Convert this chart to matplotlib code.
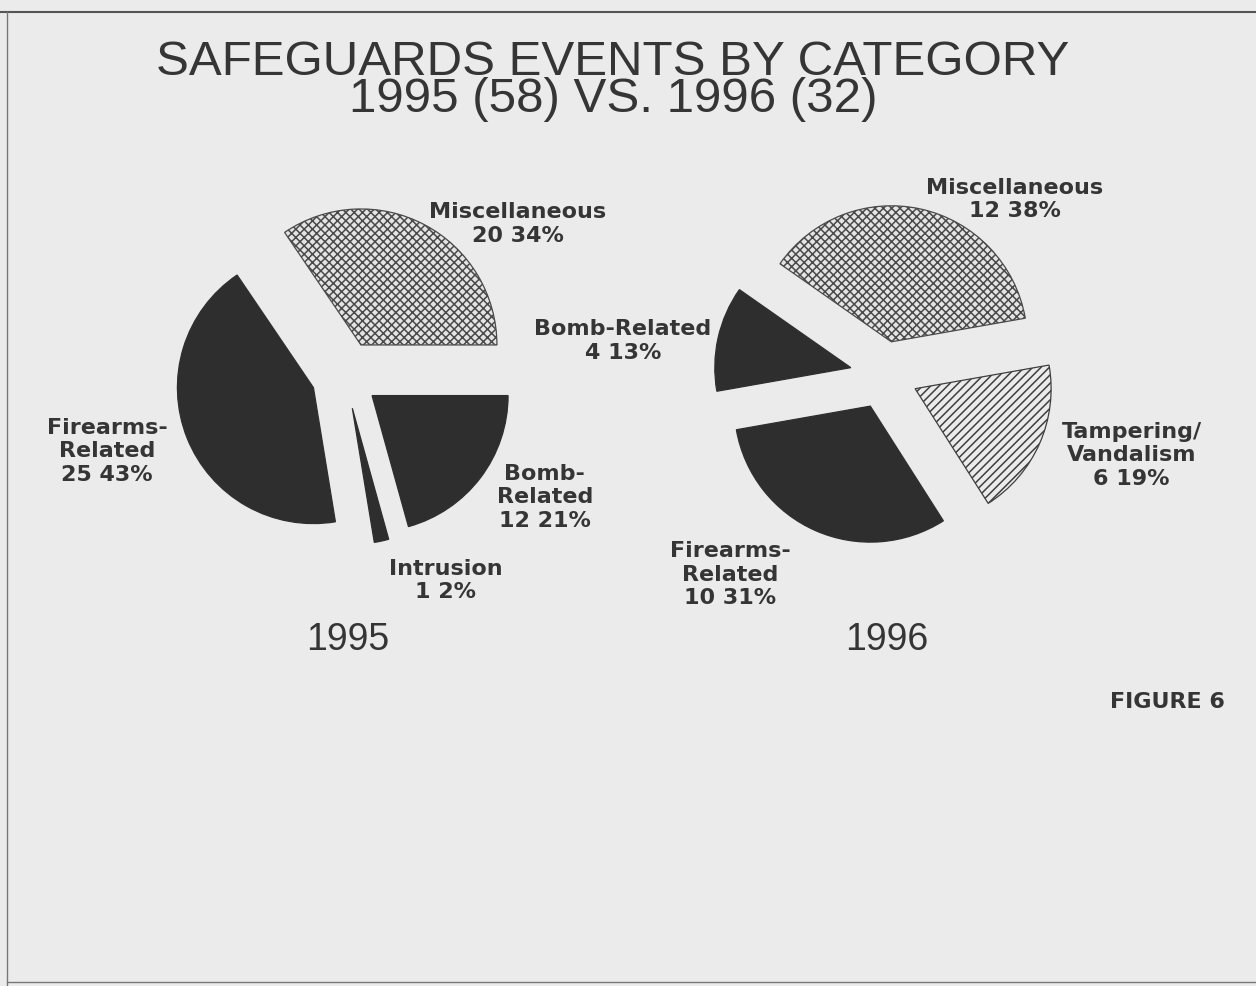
import matplotlib.pyplot as plt
from matplotlib.lines import Line2D

# data
cats_1995 = ['Miscellaneous', 'Firearms-\nRelated', 'Intrusion', 'Bomb-\nRelated']
counts_1995 = [20, 25, 1, 12]
pcts_1995 = [34, 43, 2, 21]

cats_1996 = ['Miscellaneous', 'Bomb-Related', 'Firearms-\nRelated', 'Tampering/\nVandalism']
counts_1996 = [12, 4, 10, 6]
pcts_1996 = [38, 13, 31, 19]

BG = '#ebebeb'
INK = '#353535'
DARK = '#2e2e2e'

plt.rcParams['hatch.linewidth'] = 1.1


def style_for(cat):
    # (facecolor, edgecolor, hatch)
    if cat.startswith('Misc'):
        return ('#e4e4e4', '#4a4a4a', 'xxxx')
    if cat.startswith('Tamper'):
        return (BG, '#3f3f3f', '////')
    return (DARK, DARK, None)


def draw_pie(ax, cats, counts, pcts, start, label_pos, year):
    wedges, _ = ax.pie(counts, startangle=start, counterclock=True,
                       explode=[0.25] * len(counts), radius=1.0)
    for w, c in zip(wedges, cats):
        fc, ec, h = style_for(c)
        w.set_facecolor(fc)
        w.set_edgecolor(ec)
        w.set_linewidth(0.9)
        if h:
            w.set_hatch(h)
    for c, n, p, (x, y) in zip(cats, counts, pcts, label_pos):
        ax.text(x, y, f'{c}\n{n} {p}%', ha='center', va='center',
                fontsize=16, fontweight='bold', color=INK,
                linespacing=1.22, family='DejaVu Sans')
    ax.text(0.02, -1.95, year, ha='center', va='center', fontsize=27,
            color=INK, family=['Liberation Sans', 'DejaVu Sans'])
    ax.set_xlim(-2, 2)
    ax.set_ylim(-2, 2)
    ax.axis('off')


fig = plt.figure(figsize=(12.56, 9.86), dpi=100, facecolor=BG)

# each axes is 544 px square -> pie radius of 136 px
W, H = 544 / 1256, 544 / 986
ax1 = fig.add_axes([(345 - 272) / 1256, (986 - 375 - 272) / 986, W, H])
ax2 = fig.add_axes([(884 - 272) / 1256, (986 - 375 - 272) / 986, W, H])
for a in (ax1, ax2):
    a.set_facecolor('none')

draw_pie(ax1, cats_1995, counts_1995, pcts_1995, 0,
         [(1.27, 1.11), (-1.75, -0.56), (0.74, -1.51), (1.47, -0.90)], '1995')
draw_pie(ax2, cats_1996, counts_1996, pcts_1996, 10,
         [(0.96, 1.29), (-1.92, 0.25), (-1.13, -1.47), (1.82, -0.59)], '1996')

# two tightly set title lines, as in the scan
fig.text(0.488, 1 - 81 / 986,
         'SAFEGUARDS EVENTS BY CATEGORY\n1995 (58) VS. 1996 (32)',
         ha='center', va='center', fontsize=35.5, color=INK,
         linespacing=0.79, family=['Liberation Sans', 'DejaVu Sans'])
fig.text(1167 / 1256, 1 - 702 / 986, 'FIGURE 6', ha='center', va='center',
         fontsize=16, fontweight='bold', color=INK, family='DejaVu Sans')

# page frame of the scan
fig.add_artist(Line2D([0, 1], [1 - 12 / 986] * 2, color='#555555', lw=1.5))
fig.add_artist(Line2D([7 / 1256] * 2, [0, 1 - 12 / 986], color='#777777', lw=1))
fig.add_artist(Line2D([7 / 1256, 1], [4 / 986] * 2, color='#777777', lw=1))

fig.savefig('out.png', dpi=100, facecolor=BG)
